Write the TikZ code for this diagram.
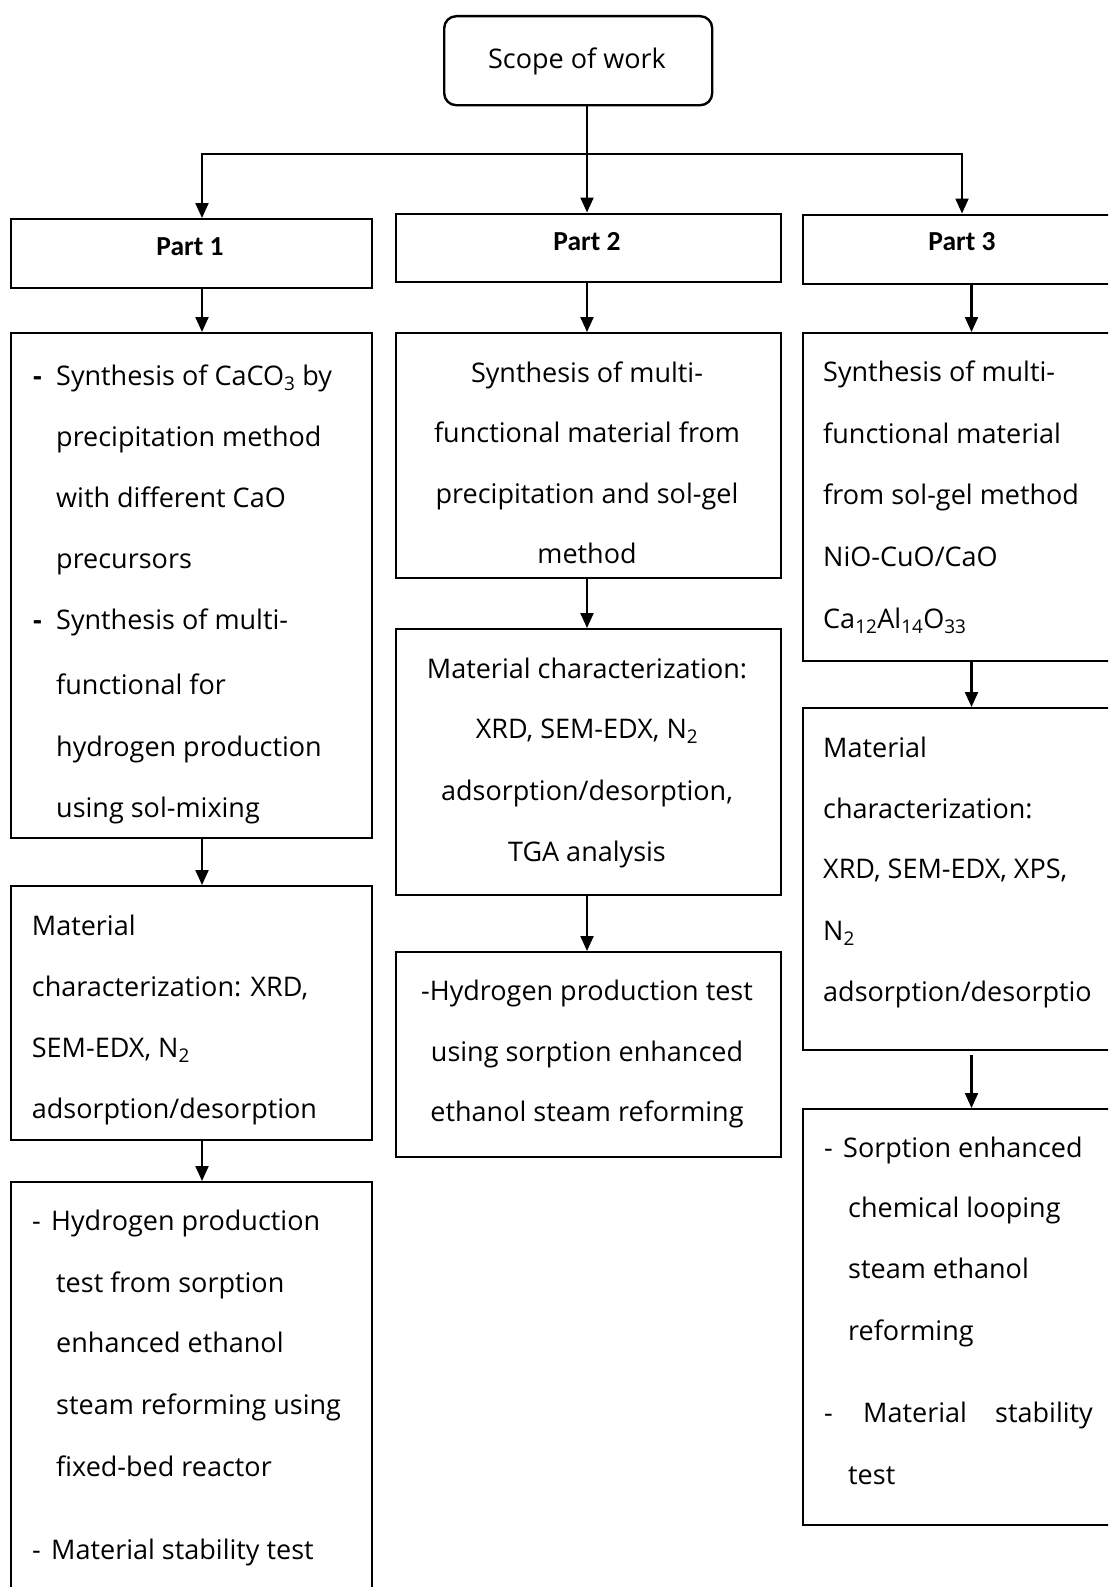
\documentclass[tikz,border=0pt]{standalone}
\usepackage{fontspec}
\setmainfont{Open Sans}
\newfontfamily\partfont{Carlito}
\usetikzlibrary{arrows.meta}
\begin{document}
\begin{tikzpicture}[x=1pt,y=-1pt,
  box/.style={draw, line width=2.4pt, rectangle, inner sep=0pt, anchor=north west},
  arr/.style={line width=2.2pt, -{Triangle[width=13pt,length=15pt]}},
  txt/.style={font=\fontsize{27}{32}\selectfont, inner sep=0pt, anchor=base west},
  ctxt/.style={txt, anchor=base},
  part/.style={font=\partfont\bfseries\fontsize{27.5}{30}\selectfont, inner sep=0pt, anchor=base}]
\path[use as bounding box] (0,0) rectangle (1108,1587);
\clip (0,0) rectangle (1108,1587);
% boxes
\node[box, rounded corners=12pt, minimum width=268pt, minimum height=89pt] (scope) at (443,15) {};
\node[box, minimum width=361pt, minimum height=69pt] (p1) at (10,218) {};
\node[box, minimum width=385pt, minimum height=68.5pt] (p2) at (395,212.5) {};
\node[box, minimum width=330pt, minimum height=69.5pt] (p3) at (802,213.5) {};
\node[box, minimum width=361pt, minimum height=505pt] (a2) at (10,332) {};
\node[box, minimum width=385pt, minimum height=245pt] (b2) at (395,332) {};
\node[box, minimum width=330pt, minimum height=328pt] (c2) at (802,332) {};
\node[box, minimum width=361pt, minimum height=253.5pt] (a3) at (10,885) {};
\node[box, minimum width=385pt, minimum height=266pt] (b3) at (395,628) {};
\node[box, minimum width=330pt, minimum height=342pt] (c3) at (802,707) {};
\node[box, minimum width=361pt, minimum height=440pt] (a4) at (10,1181) {};
\node[box, minimum width=385pt, minimum height=205pt] (b4) at (395,951) {};
\node[box, minimum width=330pt, minimum height=416pt] (c4) at (802,1108) {};
% connectors
\coordinate (j) at (587,154);
\coordinate (ca) at (202,0);
\coordinate (cb) at (587,0);
\coordinate (cc) at (971.5,0);
\coordinate (cl) at (202,0);
\coordinate (cr) at (962,0);
\draw[arr] (scope.south -| j) -- (j |- p2.north);
\draw[arr] (j) -| (cl |- p1.north);
\draw[arr] (j) -| (cr |- p3.north);
\draw[arr] (ca |- p1.south) -- (ca |- a2.north);
\draw[arr] (ca |- a2.south) -- (ca |- a3.north);
\draw[arr] (ca |- a3.south) -- (ca |- a4.north);
\draw[arr] (cb |- p2.south) -- (cb |- b2.north);
\draw[arr] (cb |- b2.south) -- (cb |- b3.north);
\draw[arr] (cb |- b3.south) -- (cb |- b4.north);
\draw[arr] (cc |- p3.south) -- (cc |- c2.north);
\draw[arr] (cc |- c2.south) -- (cc |- c3.north);
\draw[arr] ([yshift=-4pt]cc |- c3.south) -- (cc |- c4.north);
% texts
\node[ctxt] (scopet) at (577,68) {Scope of work};
\node[part] (p1t) at (190,255) {Part 1};
\node[part] (p2t) at (587,250) {Part 2};
\node[part] (p3t) at (962,250.7) {Part 3};
% part 1 box 2
\node[txt] (a2d1) at (33,385) {\textbf{-}};
\node[txt] (a2l1) at (56,385) {Synthesis of CaCO\textsubscript{3} by};
\node[txt] (a2l2) at (56,446) {precipitation method};
\node[txt] (a2l3) at (56,507) {with different CaO};
\node[txt] (a2l4) at (56,568) {precursors};
\node[txt] (a2d2) at (33,629) {\textbf{-}};
\node[txt] (a2l5) at (56,629) {Synthesis of multi-};
\node[txt] (a2l6) at (56,694) {functional for};
\node[txt] (a2l7) at (56,756) {hydrogen production};
\node[txt] (a2l8) at (56,817) {using sol-mixing};
% part 1 box 3
\node[txt] (a3l1) at (31.7,935) {Material};
\node[txt] (a3l2) at (31.7,996) {characterization: XRD,};
\node[txt] (a3l3) at (31.7,1057) {SEM-EDX, N\textsubscript{2}};
\node[txt] (a3l4) at (31.7,1118) {adsorption/desorption};
% part 1 box 4
\node[txt] (a4d1) at (32,1230) {-};
\node[txt] (a4l1) at (51,1230) {Hydrogen production};
\node[txt] (a4l2) at (56,1292) {test from sorption};
\node[txt] (a4l3) at (56,1352) {enhanced ethanol};
\node[txt] (a4l4) at (56,1414) {steam reforming using};
\node[txt] (a4l5) at (56,1476) {fixed-bed reactor};
\node[txt] (a4d2) at (32,1559) {-};
\node[txt] (a4l6) at (51,1559) {Material stability test};
% part 2 box 2
\node[ctxt] (b2l1) at (587,382) {Synthesis of multi-};
\node[ctxt] (b2l2) at (587,442) {functional material from};
\node[ctxt] (b2l3) at (587,503) {precipitation and sol-gel};
\node[ctxt] (b2l4) at (587,563) {method};
% part 2 box 3
\node[ctxt] (b3l1) at (587,678) {Material characterization:};
\node[ctxt] (b3l2) at (587,738) {XRD, SEM-EDX, N\textsubscript{2}};
\node[ctxt] (b3l3) at (587,800) {adsorption/desorption,};
\node[ctxt] (b3l4) at (587,861) {TGA analysis};
% part 2 box 4
\node[ctxt] (b4l1) at (587,1000) {-Hydrogen production test};
\node[ctxt] (b4l2) at (587,1061) {using sorption enhanced};
\node[ctxt] (b4l3) at (587,1121) {ethanol steam reforming};
% part 3 box 2
\node[txt] (c2l1) at (823,381) {Synthesis of multi-};
\node[txt] (c2l2) at (823,443) {functional material};
\node[txt] (c2l3) at (823,504) {from sol-gel method};
\node[txt] (c2l4) at (823,566) {NiO-CuO/CaO};
\node[txt] (c2l5) at (823,628) {Ca\textsubscript{12}Al\textsubscript{14}O\textsubscript{33}};
% part 3 box 3
\node[txt] (c3l1) at (823,757) {Material};
\node[txt] (c3l2) at (823,818) {characterization:};
\node[txt] (c3l3) at (823,878) {XRD, SEM-EDX, XPS,};
\node[txt] (c3l4) at (823,940) {N\textsubscript{2}};
\node[txt] (c3l5) at (823,1001) {adsorption/desorptio};
% part 3 box 4
\node[txt] (c4d1) at (824,1157) {-};
\node[txt] (c4l1) at (843,1157) {Sorption enhanced};
\node[txt] (c4l2) at (848,1217) {chemical looping};
\node[txt] (c4l3) at (848,1278) {steam ethanol};
\node[txt] (c4l4) at (848,1340) {reforming};
\node[txt] (c4d2) at (824,1422) {-};
\node[txt] (c4l5) at (863,1422) {Material};
\node[txt, anchor=base east] (c4l6) at (1093,1422) {stability};
\node[txt] (c4l7) at (848,1484) {test};
\end{tikzpicture}
\end{document}
